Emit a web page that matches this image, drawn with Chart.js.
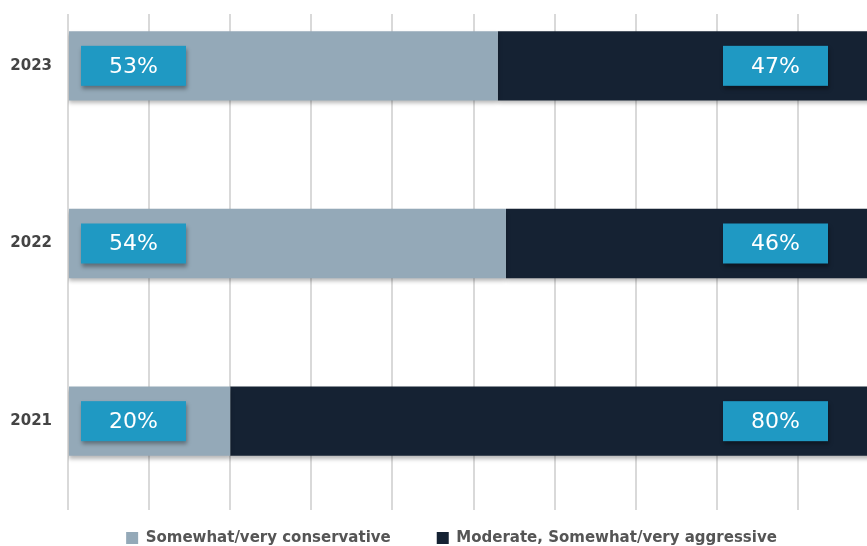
<!DOCTYPE html>
<html>
<head>
<meta charset="utf-8">
<script src="https://cdn.jsdelivr.net/npm/chart.js@4/dist/chart.umd.min.js"></script>
<style>
  html, body { margin: 0; padding: 0; background: #fff; }
  body { width: 867px; height: 546px; overflow: hidden; position: relative; }
  #wrap { position: absolute; left: 0; top: -48px; width: 900px; height: 629px; }
</style>
</head>
<body>
<div id="wrap"><canvas id="chart"></canvas></div>
<script>
const years = ["2023", "2022", "2021"];
const conservative = [53, 54, 20];
const aggressive = [47, 46, 80];
const seriesNames = ["Somewhat/very conservative", "Moderate, Somewhat/very aggressive"];

const LIGHT = "#94a9b8";
const DARK = "#152233";
const BOX = "#1f99c3";

// keep the top strip free of grid lines
const topClip = {
    id: "topClip",
    beforeDraw(chart) {
        const ctx = chart.ctx;
        ctx.save();
        ctx.beginPath();
        ctx.rect(0, 62, chart.width, chart.height);
        ctx.clip();
    },
    afterDraw(chart) {
        chart.ctx.restore();
    }
};

// centre the legend under the plot instead of the whole canvas
const legendNudge = {
    id: "legendNudge",
    afterLayout(chart) {
        chart.legend.left += 12;
        chart.legend.right += 12;
    }
};

// soft shadow under the bars
const barShadow = {
    id: "barShadow",
    beforeDatasetDraw(chart) {
        const ctx = chart.ctx;
        ctx.save();
        ctx.shadowColor = "rgba(0,0,0,0.28)";
        ctx.shadowBlur = 4;
        ctx.shadowOffsetY = 3;
    },
    afterDatasetDraw(chart) {
        chart.ctx.restore();
    }
};

// blue value boxes inside each bar segment
const valueBoxes = {
    id: "valueBoxes",
    afterDatasetsDraw(chart) {
        const ctx = chart.ctx;
        const w = 105, h = 40;
        chart.data.datasets.forEach((ds, di) => {
            const meta = chart.getDatasetMeta(di);
            meta.data.forEach((bar, i) => {
                const left = di === 0 ? bar.base + 12 : bar.x - 51 - w;
                const top = bar.y - h / 2;
                ctx.save();
                ctx.shadowColor = "rgba(0,0,0,0.35)";
                ctx.shadowBlur = 4;
                ctx.shadowOffsetX = 1;
                ctx.shadowOffsetY = 3;
                ctx.fillStyle = BOX;
                ctx.fillRect(left, top, w, h);
                ctx.restore();
                ctx.save();
                ctx.fillStyle = "#fff";
                ctx.font = "22px 'DejaVu Sans'";
                ctx.textAlign = "center";
                ctx.textBaseline = "middle";
                ctx.fillText(ds.data[i] + "%", left + w / 2, bar.y + 1);
                ctx.restore();
            });
        });
    }
};

new Chart(document.getElementById("chart"), {
    type: "bar",
    data: {
        labels: years,
        datasets: [
            { label: seriesNames[0], data: conservative, backgroundColor: LIGHT },
            { label: seriesNames[1], data: aggressive, backgroundColor: DARK }
        ]
    },
    options: {
        indexAxis: "y",
        responsive: true,
        maintainAspectRatio: false,
        animation: false,
        barPercentage: 0.39,
        categoryPercentage: 1,
        layout: { padding: { left: 0, right: 21, top: 0, bottom: 0 } },
        scales: {
            x: {
                stacked: true,
                min: 0,
                max: 100,
                ticks: { display: false, stepSize: 10 },
                grid: { color: "#d9d9d9", lineWidth: 2, drawTicks: false },
                border: { display: false },
                // pull the plot area down into the legend's top padding
                afterFit(scale) { scale.height = -25.5; }
            },
            y: {
                stacked: true,
                ticks: {
                    color: "#444",
                    padding: 16,
                    font: { family: "DejaVu Sans", size: 15, weight: "bold" }
                },
                grid: { display: false, drawTicks: false },
                border: { display: false },
                afterFit(scale) { scale.width = 68; }
            }
        },
        plugins: {
            legend: {
                position: "bottom",
                labels: {
                    boxWidth: 12,
                    boxHeight: 12,
                    padding: 46,
                    color: "#555",
                    font: { family: "DejaVu Sans", size: 15, weight: "bold" }
                }
            },
            tooltip: { enabled: false }
        }
    },
    plugins: [topClip, legendNudge, barShadow, valueBoxes]
});
</script>
</body>
</html>
